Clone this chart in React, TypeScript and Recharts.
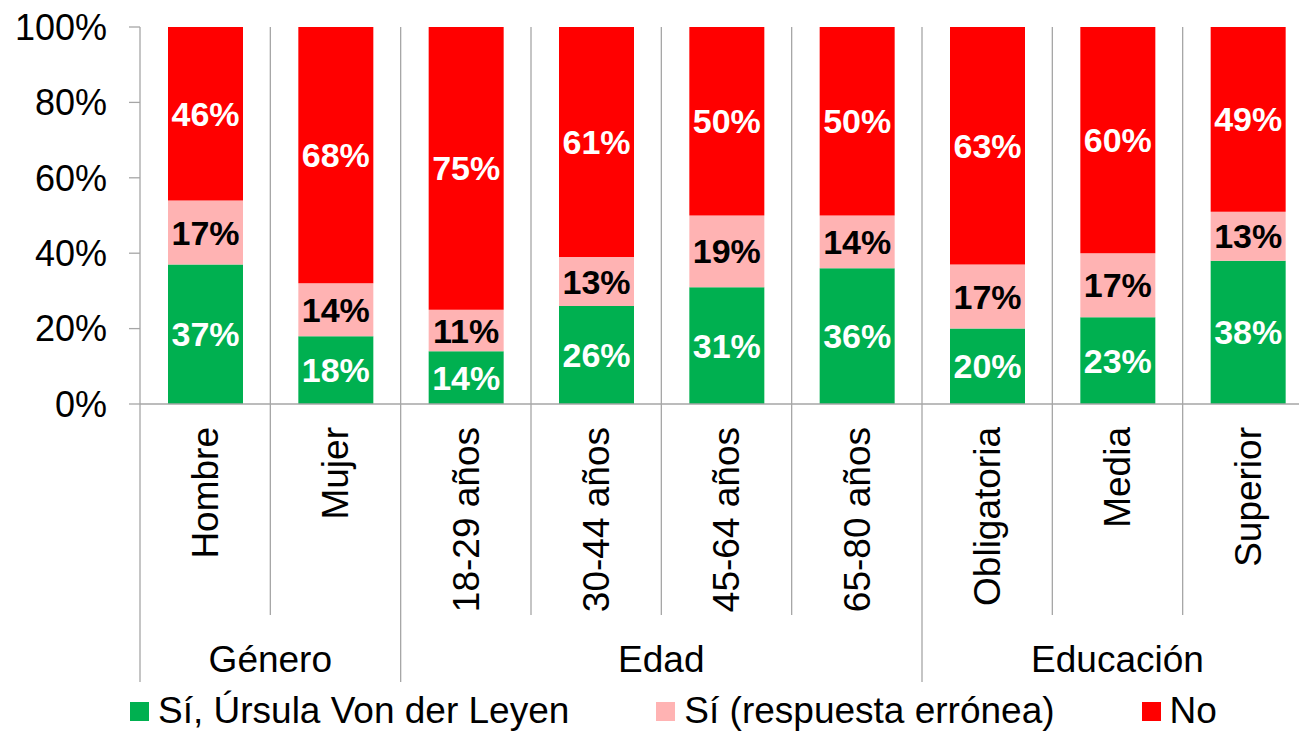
import React from 'react';
import { BarChart, Bar, XAxis, YAxis, CartesianGrid, LabelList } from 'recharts';

const categories = ['Hombre', 'Mujer', '18-29 años', '30-44 años', '45-64 años', '65-80 años', 'Obligatoria', 'Media', 'Superior'];
const siUrsula = [37, 18, 14, 26, 31, 36, 20, 23, 38];
const siErronea = [17, 14, 11, 13, 19, 14, 17, 17, 13];
const noValues = [46, 68, 75, 61, 50, 50, 63, 60, 49];
const groupNames = ['Género', 'Edad', 'Educación'];
const groupSizes = [2, 4, 3];
const yTicks = [0, 20, 40, 60, 80, 100];
const seriesNames = ['Sí, Úrsula Von der Leyen', 'Sí (respuesta errónea)', 'No'];
const seriesColors = ['#00B050', '#FFB3B3', '#FF0000'];
const labelColors = ['#FFFFFF', '#000000', '#FFFFFF'];
const seriesKeys = ['si', 'err', 'no'];

const data = categories.map((c, i) => ({ name: c, si: siUrsula[i], err: siErronea[i], no: noValues[i] }));

const CHART_W = 1320;
const CHART_H = 731;
const MARGIN = { top: 27, right: 7, left: 0, bottom: 0 };
const Y_W = 140;
const PLOT_W = CHART_W - MARGIN.left - MARGIN.right - Y_W;
const BW = PLOT_W / categories.length;
const AXIS_GRAY = '#A6A6A6';
const FONT = '"Liberation Sans", Arial, sans-serif';

const groupStarts: number[] = [];
{
  let s = 0;
  groupSizes.forEach((n) => { groupStarts.push(s); s += n; });
}

const XTick = (props: any) => {
  const { x, y, payload, index } = props;
  const left = x - BW / 2;
  const gi = groupStarts.indexOf(index);
  const isGroupStart = gi >= 0;
  const isLast = index === categories.length - 1;
  return (
    <g>
      <line x1={left} x2={left} y1={y} y2={y + (isGroupStart ? 278 : 211)} stroke={AXIS_GRAY} strokeWidth={1.3} />
      {isLast && (
        <line x1={x + BW / 2} x2={x + BW / 2} y1={y} y2={y + 278} stroke={AXIS_GRAY} strokeWidth={1.3} />
      )}
      <text
        x={x}
        y={y + 23}
        transform={`rotate(-90, ${x}, ${y + 23})`}
        textAnchor="end"
        dy="0.35em"
        fontSize={37}
        fill="#000"
        fontFamily={FONT}
      >
        {payload.value}
      </text>
      {isGroupStart && (
        <text
          x={left + (groupSizes[gi] * BW) / 2}
          y={y + 268}
          textAnchor="middle"
          fontSize={37}
          fill="#000"
          fontFamily={FONT}
        >
          {groupNames[gi]}
        </text>
      )}
    </g>
  );
};

export default function App() {
  return (
    <div style={{ position: 'absolute', left: 0, top: 0, width: 1299, height: 731, overflow: 'hidden', background: '#fff', fontFamily: FONT }}>
      <BarChart width={CHART_W} height={CHART_H} data={data} margin={MARGIN}>
        <CartesianGrid
          horizontal={false}
          stroke={AXIS_GRAY}
          strokeWidth={1.3}
          verticalCoordinatesGenerator={({ offset }: any) =>
            categories.map((_, i) => offset.left + (i * offset.width) / categories.length).slice(1)
          }
        />
        <XAxis
          dataKey="name"
          interval={0}
          height={CHART_H - 404}
          tickLine={false}
          tickSize={0}
          tickMargin={0}
          axisLine={{ stroke: AXIS_GRAY, strokeWidth: 1.3 }}
          tick={<XTick />}
        />
        <YAxis
          width={Y_W}
          domain={[0, 100]}
          ticks={yTicks}
          tickFormatter={(v: number) => `${v}%`}
          tickSize={11}
          tickMargin={22}
          axisLine={{ stroke: AXIS_GRAY, strokeWidth: 1.3 }}
          tickLine={{ stroke: AXIS_GRAY, strokeWidth: 1.3 }}
          tick={{ fill: '#000', fontSize: 36, fontFamily: FONT }}
          allowDataOverflow
        />
        {seriesKeys.map((k, i) => (
          <Bar key={k} dataKey={k} name={seriesNames[i]} stackId="a" fill={seriesColors[i]} barSize={75} isAnimationActive={false}>
            <LabelList
              dataKey={k}
              position="center"
              formatter={(v: any) => `${v}%`}
              fill={labelColors[i]}
              fontSize={34}
              fontWeight="bold"
              fontFamily={FONT}
            />
          </Bar>
        ))}
      </BarChart>
      <div style={{ position: 'absolute', left: 130, top: 692, display: 'flex', alignItems: 'center', gap: 87, fontSize: 37, lineHeight: '37px', color: '#000' }}>
        {seriesNames.map((n, i) => (
          <div key={n} style={{ display: 'flex', alignItems: 'center' }}>
            <span style={{ display: 'inline-block', width: 19, height: 19, background: seriesColors[i], marginRight: 9, position: 'relative', top: 1 }} />
            <span>{n}</span>
          </div>
        ))}
      </div>
    </div>
  );
}
